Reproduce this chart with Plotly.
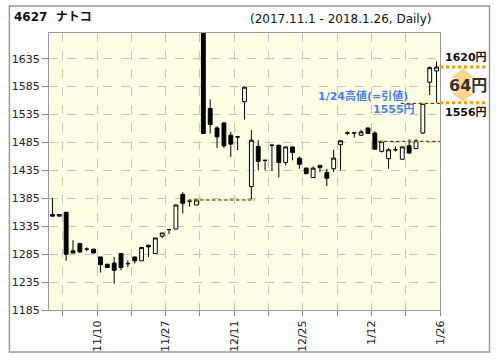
import plotly.graph_objects as go

# ---- data ----
dates = ["11/1","11/2","11/6","11/7","11/8","11/9","11/10","11/13","11/14","11/15",
         "11/16","11/17","11/20","11/21","11/22","11/24","11/27","11/28","11/29","11/30",
         "12/1","12/4","12/5","12/6","12/7","12/8","12/11","12/12","12/13","12/14",
         "12/15","12/18","12/19","12/20","12/21","12/22","12/25","12/26","12/27","12/28",
         "12/29","1/4","1/5","1/9","1/10","1/11","1/12","1/15","1/16","1/17",
         "1/18","1/19","1/22","1/23","1/24","1/25","1/26"]
opens  = [1356,1353,1360,1291,1304,1294,1294,1280,1267,1269,
          1286,1268,1280,1273,1301,1286,1317,1329,1330,1392,
          1380,1373,1700,1546,1511,1520,1498,1495,1558,1406,
          1478,1453,1480,1480,1449,1477,1457,1439,1422,1440,
          1431,1438,1481,1502,1502,1498,1511,1502,1469,1456,
          1472,1455,1479,1474,1502,1593,1613]
highs  = [1386,1356,1360,1310,1304,1297,1294,1280,1267,1280,
          1286,1274,1280,1297,1301,1314,1323,1329,1374,1396,
          1382,1382,1700,1562,1514,1521,1504,1496,1585,1507,
          1489,1453,1481,1481,1478,1478,1460,1440,1442,1445,
          1438,1472,1488,1505,1502,1508,1511,1505,1488,1475,
          1478,1478,1491,1491,1555,1621,1630]
lows   = [1353,1353,1273,1287,1287,1290,1287,1252,1261,1232,
          1256,1262,1268,1273,1280,1286,1314,1321,1330,1358,
          1370,1373,1501,1501,1475,1475,1459,1471,1526,1383,
          1435,1435,1434,1422,1444,1453,1438,1429,1422,1432,
          1407,1432,1435,1498,1494,1497,1501,1473,1467,1438,
          1469,1454,1465,1474,1500,1570,1556]
closes = [1353,1356,1285,1287,1289,1294,1287,1266,1261,1256,
          1261,1268,1273,1297,1298,1314,1323,1329,1373,1376,
          1380,1382,1501,1517,1495,1479,1482,1495,1584,1489,
          1451,1453,1480,1449,1477,1467,1446,1429,1439,1444,
          1421,1457,1488,1502,1502,1504,1501,1473,1487,1472,
          1472,1477,1466,1488,1555,1619,1620]

y_ticks = list(range(1185, 1636, 50))
label_days = [6, 16, 26, 36, 46, 56]      # indices of labelled ticks
minor_days = [1, 11, 21, 31, 41, 51]      # unlabelled ticks

# gap ("window") lines: start index, end index, price
gap_start = [19.8, 47.5, 50.8]
gap_end   = [29.5, 56.5, 56.5]
gap_price = [1382, 1487, 1555]

hi_price, lo_price = 1620, 1556
prev_high_label = "1/24高値(=引値)"
prev_high_price = 1555

FONT = "DejaVu Sans, Noto Sans CJK JP, sans-serif"

x = list(range(len(dates)))

fig = go.Figure()
fig.add_trace(go.Candlestick(
    x=x, open=opens, high=highs, low=lows, close=closes,
    increasing=dict(line=dict(color="black", width=1), fillcolor="white"),
    decreasing=dict(line=dict(color="black", width=1), fillcolor="black"),
    whiskerwidth=0, hoverinfo="skip", showlegend=False))

for s, e, p in zip(gap_start, gap_end, gap_price):
    fig.add_trace(go.Scatter(x=[s, e], y=[p, p], mode="lines",
                             line=dict(color="#f5d840", width=1),
                             hoverinfo="skip", showlegend=False))
    fig.add_trace(go.Scatter(x=[s, e], y=[p, p], mode="lines",
                             line=dict(color="#222222", width=1, dash="dot"),
                             hoverinfo="skip", showlegend=False))

L, R, T, B = 45, 56, 33, 48
W, H = 496, 364
PW, PH = W - L - R, H - T - B

def px(xp):
    return (xp - L) / PW

def py(yp):
    return (H - B - yp) / PH

tickvals = sorted([d + 0.5 for d in label_days + minor_days])
ticktext = [dates[int(v - 0.5)] if int(v - 0.5) in label_days else "" for v in tickvals]

fig.update_layout(
    width=W, height=H,
    margin=dict(l=L, r=R, t=T, b=B, pad=0),
    paper_bgcolor="white", plot_bgcolor="#FFFFE4",
    boxgap=0.2,
    font=dict(family=FONT, size=11, color="#222222"),
    xaxis=dict(range=[-0.5, len(dates) - 0.5], tickvals=tickvals, ticktext=ticktext,
               tickangle=-90, ticks="outside", ticklen=5, tickcolor="#888888",
               showline=True, linecolor="#999999", linewidth=1, mirror=True,
               showgrid=True, gridcolor="#c4c4c4", griddash="dash", gridwidth=1,
               zeroline=False, rangeslider=dict(visible=False),
               tickfont=dict(size=11, family=FONT, color="#222222")),
    yaxis=dict(range=[1185, 1681], tickvals=y_ticks, ticks="outside", ticklen=6,
               tickcolor="#888888", showline=True, linecolor="#999999", linewidth=1,
               mirror=True, showgrid=True, gridcolor="#c4c4c4", griddash="dash",
               gridwidth=1, zeroline=False,
               tickfont=dict(size=11, family=FONT, color="#222222")),
    showlegend=False,
)

# outer frame
fig.add_shape(type="rect", xref="paper", yref="paper",
              x0=px(5), x1=px(490), y0=py(359), y1=py(5.5),
              line=dict(color="#999999", width=1.5), fillcolor="rgba(0,0,0,0)")

# orange range lines on the right
for p in (hi_price, lo_price):
    fig.add_shape(type="line", xref="paper", yref="y",
                  x0=px(440), x1=px(488), y0=p, y1=p,
                  line=dict(color="#FF9900", width=3, dash="dot"))

# double arrow between them
pts = [(463, 69), (451, 79), (456, 79), (456, 94), (451, 94), (463, 103),
       (475, 94), (470, 94), (470, 79), (475, 79)]
path = "M " + " L ".join(f"{px(a):.4f},{py(b):.4f}" for a, b in pts) + " Z"
fig.add_shape(type="path", xref="paper", yref="paper", path=path,
              fillcolor="rgba(255,160,0,0.45)", line=dict(width=0))

ann = []
ann.append(dict(text="<b>4627\u00a0\u00a0ナトコ</b>", x=px(8), y=py(16.7),
                xanchor="left", yanchor="middle", font=dict(size=12, color="#111111")))
ann.append(dict(text="(2017.11.1 - 2018.1.26, Daily)", x=px(433), y=py(18.8),
                xanchor="right", yanchor="middle", font=dict(size=12, color="#111111")))
ann.append(dict(text=f"<b>{hi_price}円</b>", x=px(466), y=py(58.5),
                xanchor="center", yanchor="middle", font=dict(size=11, color="#111111")))
ann.append(dict(text=f"<b>{hi_price - lo_price}円</b>", x=px(468), y=py(86.7),
                xanchor="center", yanchor="middle", font=dict(size=16, color="#333322")))
ann.append(dict(text=f"<b>{lo_price}円</b>", x=px(466), y=py(114),
                xanchor="center", yanchor="middle", font=dict(size=11, color="#111111")))
ann.append(dict(text=f"<b>{prev_high_label}</b>", x=px(410), y=py(97.3),
                xanchor="right", yanchor="middle", font=dict(size=11, color="#4a7ef0")))
ann.append(dict(text=f"<b>{prev_high_price}円</b>", x=px(416.7), y=py(110.7),
                xanchor="right", yanchor="middle", font=dict(size=11, color="#4a7ef0")))
for a in ann:
    a.update(xref="paper", yref="paper", showarrow=False)
    a["font"]["family"] = FONT
fig.update_layout(annotations=ann)

fig.write_html("out.html")
